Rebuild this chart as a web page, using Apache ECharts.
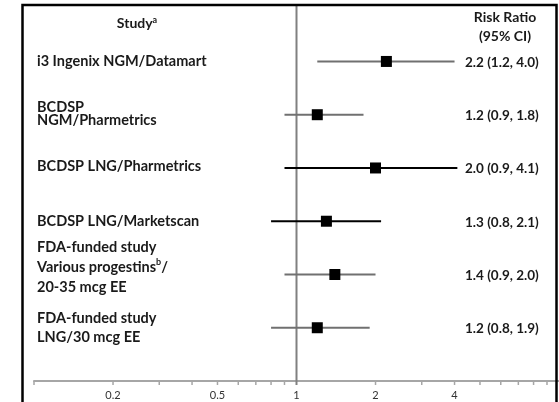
<!DOCTYPE html>
<html><head><meta charset="utf-8">
<script src="https://cdn.jsdelivr.net/npm/echarts@6/dist/echarts.min.js"></script>
<style>html,body{margin:0;padding:0;background:#fff}#c{width:559px;height:402px}</style>
</head><body><div id="c"></div>
<script>
// ---- data ----
const studies = [
  'i3 Ingenix NGM/Datamart',
  'BCDSP\nNGM/Pharmetrics',
  'BCDSP LNG/Pharmetrics',
  'BCDSP LNG/Marketscan',
  'FDA-funded study\nVarious progestins{sup|b}/\n20-35 mcg EE',
  'FDA-funded study\nLNG/30 mcg EE'
];
const riskRatio = [2.2, 1.2, 2.0, 1.3, 1.4, 1.2];
const ciLow = [1.2, 0.9, 0.9, 0.8, 0.9, 0.8];
const ciHigh = [4.0, 1.8, 4.1, 2.1, 2.0, 1.9];
const tickValues = [0.1,0.2,0.3,0.4,0.5,0.6,0.7,0.8,0.9,1,2,3,4,5,6,7,8,9];
const tickLabels = [0.2, 0.5, 1, 2, 4];
const headerStudy = 'Study{sup|a}';
const headerRR = 'Risk Ratio\n(95% CI)';

// ---- styles ----
const rowLineColors = ['#707070','#707070','#000','#000','#707070','#707070'];
const labelLineHeights = [14, 13, 14, 14, 20, 19];
const labelOffsets = [0, -1, -2, 0, -7, 0];
const FONT = 'Lato, "Open Sans", sans-serif';

const chart = echarts.init(document.getElementById('c'));
const rows = riskRatio.map((v, i) => [ciLow[i], i + 1, v, ciHigh[i]]);

const option = {
  animation: false,
  grid: { left: 34, right: 0, top: 5, bottom: 21 },
  xAxis: {
    type: 'log', logBase: 10, min: 0.1, max: 10,
    axisLine: { show: true, onZero: false, lineStyle: { color: '#a6a6a6', width: 2 } },
    axisTick: { show: false }, axisLabel: { show: false }, splitLine: { show: false }
  },
  yAxis: { type: 'value', inverse: true, min: -0.06, max: 7, show: false },
  series: [
    {
      type: 'line', data: [[1, -0.06], [1, 7]], symbol: 'none', silent: true,
      lineStyle: { color: '#808080', width: 2 }, z: 2
    },
    {
      type: 'custom', data: tickValues.map(v => [v, 7]), z: 3,
      renderItem(params, api) {
        const v = api.value(0);
        const p = api.coord([v, 7]);
        const children = [{
          type: 'line', shape: { x1: p[0], y1: p[1], x2: p[0], y2: p[1] + 4 },
          style: { stroke: v === 1 ? '#808080' : '#a6a6a6', lineWidth: v === 1 ? 2 : 1.5 }
        }];
        if (tickLabels.indexOf(v) >= 0) {
          children.push({
            type: 'text', x: p[0], y: p[1] + 14,
            style: { text: String(v), fill: '#333', font: '11px ' + FONT, align: 'center', verticalAlign: 'middle' }
          });
        }
        return { type: 'group', children };
      }
    },
    {
      type: 'custom', data: rows, z: 5,
      renderItem(params, api) {
        const i = params.dataIndex;
        const r = api.value(1);
        const a = api.coord([api.value(0), r]);
        const b = api.coord([api.value(3), r]);
        const m = api.coord([api.value(2), r]);
        const s = 11;
        return { type: 'group', children: [
          { type: 'line', shape: { x1: a[0], y1: a[1], x2: b[0], y2: b[1] },
            style: { stroke: rowLineColors[i], lineWidth: 2 } },
          { type: 'rect', shape: { x: m[0] - s / 2, y: m[1] - s / 2, width: s, height: s },
            style: { fill: '#000' } }
        ]};
      }
    }
  ]
};
chart.setOption(option);

const richSup = { sup: { fontSize: 9, fontWeight: 'bold', fontFamily: FONT, verticalAlign: 'top', padding: [0, 0, 5, 0] } };
const g = [
  { type: 'rect', shape: { x: 22.5, y: 5, width: 534, height: 500 },
    style: { fill: 'none', stroke: '#000', lineWidth: 2.5 }, z: 10 },
  { type: 'text', x: 137, y: 23, z: 11,
    style: { text: headerStudy, align: 'center', verticalAlign: 'middle', fill: '#1a1a1a',
      font: 'bold 14px ' + FONT, rich: richSup } },
  { type: 'text', x: 505, y: 27, z: 11,
    style: { text: headerRR, align: 'center', verticalAlign: 'middle', fill: '#1a1a1a',
      font: 'bold 14px ' + FONT, lineHeight: 19 } }
];
studies.forEach((s, i) => {
  const y = chart.convertToPixel({ yAxisIndex: 0 }, i + 1);
  g.push({ type: 'text', x: 37, y: y + labelOffsets[i], z: 11,
    style: { text: s, align: 'left', verticalAlign: 'middle', fill: '#1a1a1a',
      font: 'bold 14.5px ' + FONT, lineHeight: labelLineHeights[i], rich: richSup } });
  g.push({ type: 'text', x: 465, y: y + 1, z: 11,
    style: { text: riskRatio[i].toFixed(1) + ' (' + ciLow[i].toFixed(1) + ', ' + ciHigh[i].toFixed(1) + ')',
      align: 'left', verticalAlign: 'middle', fill: '#1a1a1a', font: 'bold 13.5px ' + FONT } });
});
chart.setOption({ graphic: g });
</script></body></html>
